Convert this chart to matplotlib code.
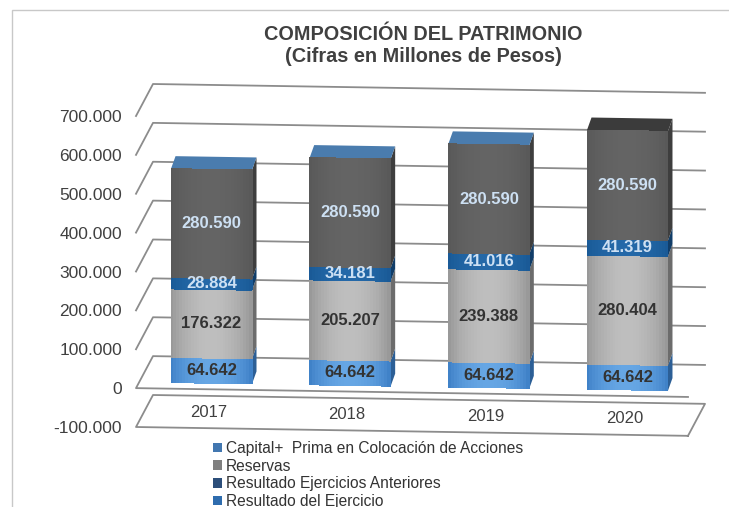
import numpy as np
import matplotlib
matplotlib.use('Agg')
import matplotlib.pyplot as plt
from matplotlib.patches import Polygon, Patch, Rectangle
from matplotlib.lines import Line2D
from matplotlib.collections import PolyCollection
from matplotlib.transforms import Affine2D, IdentityTransform
from matplotlib.colors import to_rgb

plt.rcParams['font.family'] = ['Liberation Sans', 'DejaVu Sans']

### datos (millones de pesos)
years = ['2017', '2018', '2019', '2020']
capital = [64642, 64642, 64642, 64642]
reservas = [176322, 205207, 239388, 280404]
res_anteriores = [28884, 34181, 41016, 41319]
res_ejercicio = [280590, 280590, 280590, 280590]
series_names = ['Capital+  Prima en Colocación de Acciones', 'Reservas',
                'Resultado Ejercicios Anteriores', 'Resultado del Ejercicio']
yticks = list(range(-100000, 700001, 100000))

### estilos
seg_face = [('#3a7cc4', '#66a6e4'), ('#939393', '#bebebe'),
            ('#185894', '#2468a8'), ('#575757', '#646464')]
seg_side = ['#2c5f96', '#6c6c6c', '#113d68', '#3e3e3e']
seg_text = ['#333333', '#333333', '#cde0f3', '#cde0f3']
top_face = ['#4a7cae', '#4a7cae', '#4a7cae', '#3b3b3b']
legend_colors = ['#4277b0', '#7f7f7f', '#2c4e7a', '#2e6cae']
grid_color = '#8c8c8c'
text_color = '#404040'


def fmt(v):
    return f'{v:,}'.replace(',', '.')


W, H = 729, 507
fig = plt.figure(figsize=(W / 100, H / 100), dpi=100)
ax = fig.add_axes([136 / W, (H - 427) / H, (688 - 136) / W, (427 - 116) / H])
ax.set_xlim(-0.523, 3.458)
ax.set_ylim(-100000, 700000)
ax.patch.set_visible(False)
for s in ax.spines.values():
    s.set_visible(False)
ax.set_xticks([])
ax.set_yticks(yticks)
ax.set_yticklabels([fmt(v) for v in yticks])
ax.tick_params(axis='y', length=0, pad=10, labelsize=12.5, labelcolor=text_color)

# perspectiva: las lineas bajan un poco hacia la derecha
k = 0.016
shear = Affine2D.from_values(1, -k, 0, 1, 0, k * 136)
T = ax.transData + shear
ident = IdentityTransform()

back = (17, 32)      # pared del fondo
off = (3, 6)         # cara frontal de las barras
depth = (4.5, 12.5)  # profundidad de cada barra
bw = 0.584
x0, x1 = ax.get_xlim()


def px(x, y, dx=0.0, dy=0.0):
    p = T.transform((x, y))
    return (p[0] + dx, p[1] + dy)


def line(pts, **kw):
    xs, ys = zip(*pts)
    ax.add_artist(Line2D(xs, ys, transform=ident, color=grid_color, lw=1.3,
                         clip_on=False, zorder=1, **kw))


### paredes y rejilla
for v in yticks:
    fl = px(x0, v)
    fr = px(x1, v)
    bl = px(x0, v, *back)
    br = px(x1, v, *back)
    if v == yticks[0]:
        line([fr, fl, bl, br, fr])
    elif v == 0:
        line([fr, fl, bl, br])
    else:
        line([fl, bl, br])


def mix(c1, c2, t):
    a, b = np.array(to_rgb(c1)), np.array(to_rgb(c2))
    return tuple(a + (b - a) * t)


def face(xl, xr, b, t, edge, mid, n=28):
    # base solida y encima franjas para el degradado
    full = [px(xl, b, *off), px(xr, b, *off), px(xr, t, *off), px(xl, t, *off)]
    ax.add_patch(Polygon(full, closed=True, transform=ident, facecolor=mix(edge, mid, 0.6),
                         edgecolor='none', zorder=3, clip_on=False))
    polys, cols = [], []
    for j in range(n):
        u0, u1 = j / n, (j + 1) / n
        xa, xb = xl + (xr - xl) * u0, xl + (xr - xl) * u1
        polys.append([px(xa, b, *off), px(xb, b, *off), px(xb, t, *off), px(xa, t, *off)])
        u = (u0 + u1) / 2
        cols.append(mix(edge, mid, np.sin(np.pi * u) ** 0.7))
    pc = PolyCollection(polys, facecolors=cols, edgecolors='none', linewidths=0,
                        antialiaseds=False, transform=ident, zorder=3.1, clip_on=False)
    ax.add_collection(pc, autolim=False)


### barras apiladas
stack = [capital, reservas, res_anteriores, res_ejercicio]
label_tr = T + Affine2D().translate(*off)
for i in range(len(years)):
    base = 0
    xl, xr = i - bw / 2, i + bw / 2
    for s, vals in enumerate(stack):
        b, t = base, base + vals[i]
        base = t
        frb = px(xr, b, *off)
        frt = px(xr, t, *off)
        side = [frb, frt, (frt[0] + depth[0], frt[1] + depth[1]),
                (frb[0] + depth[0], frb[1] + depth[1])]
        ax.add_patch(Polygon(side, closed=True, transform=ident, facecolor=seg_side[s],
                             edgecolor='none', zorder=3, clip_on=False))
        face(xl, xr, b, t, *seg_face[s])
        ax.text(i, (b + t) / 2, fmt(vals[i]), transform=label_tr, ha='center', va='center',
                fontsize=12, fontweight='bold', color=seg_text[s], zorder=5)
    flt = px(xl, base, *off)
    frt = px(xr, base, *off)
    top = [flt, frt, (frt[0] + depth[0], frt[1] + depth[1]),
           (flt[0] + depth[0], flt[1] + depth[1])]
    ax.add_patch(Polygon(top, closed=True, transform=ident, facecolor=top_face[i],
                         edgecolor='none', zorder=3, clip_on=False))

### etiquetas de los anos
year_tr = T + Affine2D().translate(0, 16)
for i, yr in enumerate(years):
    ax.text(i, yticks[0], yr, transform=year_tr, ha='center', va='center',
            fontsize=12, color=text_color)

ax.set_xlim(x0, x1)
ax.set_ylim(-100000, 700000)

### titulo
fig.text(423 / W, 1 - 34 / H, 'COMPOSICIÓN DEL PATRIMONIO', ha='center', va='center',
         fontsize=14.3, fontweight='bold', color=text_color)
fig.text(423 / W, 1 - 57 / H, '(Cifras en Millones de Pesos)', ha='center', va='center',
         fontsize=14.3, fontweight='bold', color=text_color)

### leyenda
handles = [Patch(facecolor=c, edgecolor='none') for c in legend_colors]
fig.legend(handles, series_names, loc='upper left', bbox_to_anchor=(213 / W, 1 - 441 / H),
           frameon=False, fontsize=11.2, handlelength=0.6, handleheight=0.6,
           handletextpad=0.25, labelspacing=0.17, borderaxespad=0, borderpad=0,
           labelcolor='#333333')

### marco
fig.add_artist(Rectangle((12 / W, -0.1), 1.2, 1.1 - 10 / H, transform=fig.transFigure,
                         fill=False, edgecolor='#c8c8c8', lw=1))

fig.savefig('out.png', dpi=100)
